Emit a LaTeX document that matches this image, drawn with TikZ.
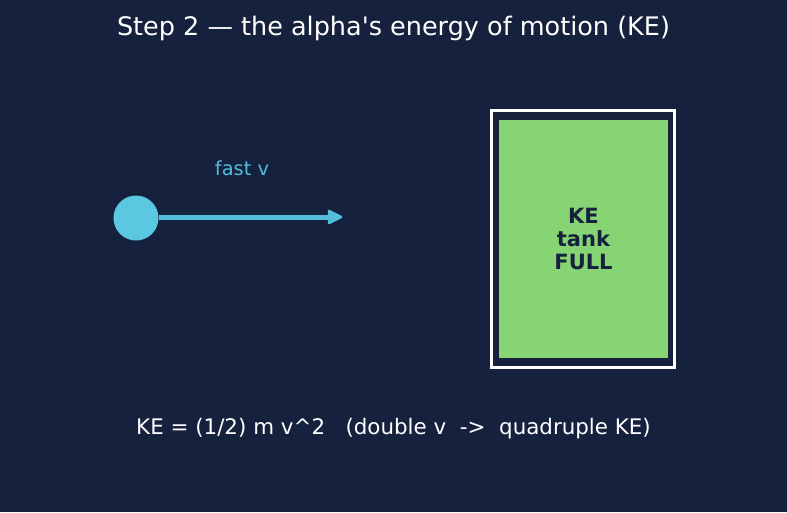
\documentclass[tikz,border=0pt]{standalone}
\usepackage{fontspec}
\setmainfont{DejaVu Sans}[Ligatures=TeXOff]
\definecolor{bg}{HTML}{16213E}
\definecolor{ball}{HTML}{5BC8E2}
\definecolor{arr}{HTML}{52BCDA}
\definecolor{tank}{HTML}{86D474}
\tikzset{
  txt/.style={text=white, inner sep=0pt, anchor=center},
}
\begin{document}
\begin{tikzpicture}[x=1pt,y=-1pt]
\fill[bg] (0,0) rectangle (787,512);
\useasboundingbox (0,0) rectangle (787,512);
\node[txt, font=\fontsize{25.5}{30}\selectfont] (title) at (393.5,28) {Step 2 — the alpha's energy of motion (KE)};
\node[circle, fill=ball, minimum size=45pt, inner sep=0pt] (ball) at (136,218) {};
\coordinate (tip) at (341,217);
\coordinate (neck) at (330,217);
\draw[draw=arr, line width=5pt] (ball.east) ++(0,-1) -- (neck);
\filldraw[fill=arr, draw=arr, line width=2.5pt, line join=round] (tip) -- ++(-12,-6) -- ++(0,12) -- cycle;
\node[txt, text=arr, font=\fontsize{19.4}{23}\selectfont] (fast) at (242,168) {fast v};
\node[draw=white, line width=3pt, minimum width=183pt, minimum height=257pt, inner sep=0pt] (outer) at (583,239) {};
\node[fill=tank, minimum width=169pt, minimum height=238pt, inner sep=0pt, align=center, text=bg, font=\bfseries\fontsize{21}{23}\selectfont] (tankbox) at (583.5,239) {KE\\tank\\FULL};
\node[txt, font=\fontsize{21.4}{25}\selectfont] (formula) at (393.5,429) {KE = (1/2) m v\textasciicircum 2\ \ \ (double v\ \ ->\ \ quadruple KE)};
\end{tikzpicture}
\end{document}
